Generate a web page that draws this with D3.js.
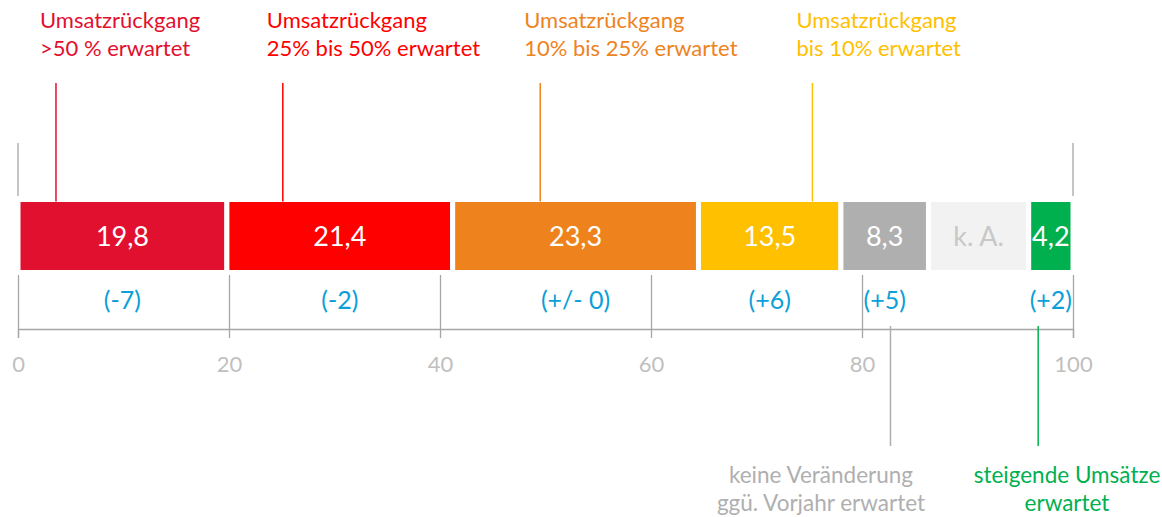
<!DOCTYPE html>
<html>
<head>
<meta charset="utf-8">
<script src="https://cdn.jsdelivr.net/npm/d3@7"></script>
<style>
  body { margin: 0; background: #fff; }
  svg text { font-family: Lato, "Open Sans", sans-serif; }
</style>
</head>
<body>
<div id="chart"></div>
<script>
// data
var categories = ['>50%', '25-50%', '10-25%', 'bis 10%', 'keine', 'k. A.', 'steigend'];
var shares = [19.8, 21.4, 23.3, 13.5, 8.3, 9.5, 4.2];
var shareLabels = ['19,8', '21,4', '23,3', '13,5', '8,3', 'k. A.', '4,2'];
var changeLabels = ['(-7)', '(-2)', '(+/- 0)', '(+6)', '(+5)', null, '(+2)'];
var colors = ['#e2102f', '#ff0000', '#ee831e', '#ffc000', '#afafaf', '#f2f2f2', '#00b04f'];
var labelColors = ['#fff', '#fff', '#fff', '#fff', '#fff', '#c8c8c8', '#fff'];
var ticks = [0, 20, 40, 60, 80, 100];

// callouts: value position on the axis, text lines, colour
var topNotes = [
  { at: 3.6, lines: ['Umsatzrückgang', '>50 % erwartet'], color: '#e2102f' },
  { at: 25.1, lines: ['Umsatzrückgang', '25% bis 50% erwartet'], color: '#ff0000' },
  { at: 49.5, lines: ['Umsatzrückgang', '10% bis 25% erwartet'], color: '#ee831e' },
  { at: 75.3, lines: ['Umsatzrückgang', 'bis 10% erwartet'], color: '#ffc000' }
];
var bottomNotes = [
  { at: 82.7, lines: ['keine Veränderung', 'ggü. Vorjahr erwartet'], color: '#afafaf', cx: 821 },
  { at: 96.7, lines: ['steigende Umsätze', 'erwartet'], color: '#00b04f', cx: 1067 }
];

var width = 1162, height = 517;
var svg = d3.select('#chart').append('svg').attr('width', width).attr('height', height);

var x = d3.scaleLinear().domain([0, 100]).range([18, 1073]);
var barTop = 199.5, barH = 73, axisY = 329;

// stacked segments
var stack = [];
var acc = 0;
shares.forEach(function(v, i) {
  stack.push({ i: i, x0: acc, x1: acc + v });
  acc += v;
});

// gridlines under the bar
svg.append('g')
  .attr('transform', 'translate(0,' + axisY + ')')
  .call(d3.axisBottom(x).tickValues(ticks).tickSize(-54).tickFormat(''))
  .call(function(g) {
    g.select('.domain').remove();
    g.selectAll('line').attr('stroke', '#a6a6a6').attr('stroke-width', 1.3);
  });

// axis
svg.append('g')
  .attr('transform', 'translate(0,' + axisY + ')')
  .call(d3.axisBottom(x).tickValues(ticks).tickSize(9).tickSizeOuter(9).tickPadding(18))
  .call(function(g) {
    g.select('.domain').attr('stroke', '#a6a6a6').attr('stroke-width', 1.3);
    g.selectAll('line').attr('stroke', '#a6a6a6').attr('stroke-width', 1.3);
    g.selectAll('text').attr('fill', '#bfbfbf').style('font-size', '22px');
  });

// short lines above bar at 0 and 100
svg.selectAll('.edge')
  .data([0, 100])
  .enter().append('line')
  .attr('x1', function(d) { return x(d); })
  .attr('x2', function(d) { return x(d); })
  .attr('y1', 143).attr('y2', 196)
  .attr('stroke', '#a6a6a6').attr('stroke-width', 1.3);

// bar segments
svg.selectAll('.seg')
  .data(stack)
  .enter().append('rect')
  .attr('x', function(d) { return x(d.x0); })
  .attr('width', function(d) { return x(d.x1) - x(d.x0); })
  .attr('y', barTop)
  .attr('height', barH)
  .attr('fill', function(d) { return colors[d.i]; })
  .attr('stroke', '#fff')
  .attr('stroke-width', 5);

svg.selectAll('.segLabel')
  .data(stack)
  .enter().append('text')
  .attr('x', function(d) { return x((d.x0 + d.x1) / 2); })
  .attr('y', barTop + barH / 2 + 10)
  .attr('text-anchor', 'middle')
  .attr('fill', function(d) { return labelColors[d.i]; })
  .style('font-size', '27px')
  .text(function(d) { return shareLabels[d.i]; });

// change vs previous year
svg.selectAll('.chg')
  .data(stack.filter(function(d) { return changeLabels[d.i]; }))
  .enter().append('text')
  .attr('x', function(d) { return x((d.x0 + d.x1) / 2); })
  .attr('y', 309)
  .attr('text-anchor', 'middle')
  .attr('fill', '#0c9fd8')
  .style('font-size', '25px')
  .text(function(d) { return changeLabels[d.i]; });

// top callouts
topNotes.forEach(function(n) {
  svg.append('line')
    .attr('x1', x(n.at)).attr('x2', x(n.at))
    .attr('y1', 83).attr('y2', barTop + 2)
    .attr('stroke', n.color).attr('stroke-width', 1.5);
  var t = svg.append('text')
    .attr('x', x(n.at) - 16)
    .attr('fill', n.color)
    .style('font-size', '22px');
  n.lines.forEach(function(s, k) {
    t.append('tspan').attr('x', x(n.at) - 16).attr('y', 28 + k * 28).text(s);
  });
});

// bottom callouts
bottomNotes.forEach(function(n) {
  svg.append('line')
    .attr('x1', x(n.at)).attr('x2', x(n.at))
    .attr('y1', axisY - 3).attr('y2', 446)
    .attr('stroke', n.color).attr('stroke-width', 1.5);
  var t = svg.append('text')
    .attr('text-anchor', 'middle')
    .attr('fill', n.color)
    .style('font-size', '22.5px');
  n.lines.forEach(function(s, k) {
    t.append('tspan').attr('x', n.cx).attr('y', 483 + k * 28).text(s);
  });
});
</script>
</body>
</html>
